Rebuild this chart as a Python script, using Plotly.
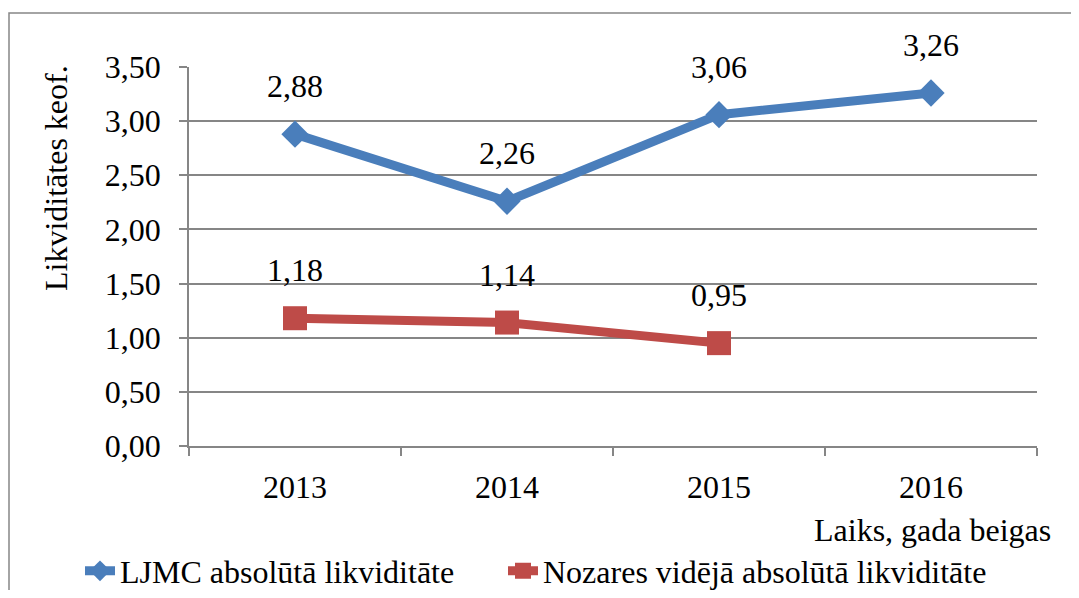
import plotly.graph_objects as go

years = ["2013", "2014", "2015", "2016"]
ljmc = [2.88, 2.26, 3.06, 3.26]
nozare = [1.18, 1.14, 0.95, None]
ljmc_labels = ["2,88", "2,26", "3,06", "3,26"]
nozare_labels = ["1,18", "1,14", "0,95", None]
y_ticks = [0, 0.5, 1.0, 1.5, 2.0, 2.5, 3.0, 3.5]
y_tick_text = ["0,00", "0,50", "1,00", "1,50", "2,00", "2,50", "3,00", "3,50"]

BLUE = "#4A7EBB"
RED = "#BE4B48"
FONT = "Liberation Serif, Times New Roman, serif"
FS = 32

# page offset (body margin) compensation
OFF = 8
W, H = 1079 - 2 * OFF, 598 - 2 * OFF
L, R = 189 - OFF, 1037 - OFF
T, B = 67 - OFF, 446 - OFF
PW, PH = R - L, B - T


def px(xr):
    return (xr - OFF - L) / PW


def py(yr):
    return (B - (yr - OFF)) / PH


fig = go.Figure()
fig.add_trace(go.Scatter(
    x=years, y=ljmc, mode="lines+markers", name="LJMC absolūtā likviditāte",
    line=dict(color=BLUE, width=9), marker=dict(symbol="diamond", size=21, color=BLUE),
    legend="legend",
))
fig.add_trace(go.Scatter(
    x=years[:3], y=nozare[:3], mode="lines+markers", name="Nozares vidējā absolūtā likviditāte",
    line=dict(color=RED, width=9), marker=dict(symbol="square", size=24, color=RED),
    legend="legend2",
))

for i, (y, t) in enumerate(zip(ljmc, ljmc_labels)):
    fig.add_annotation(x=i, y=y, text=t, showarrow=False, yshift=48,
                       font=dict(family=FONT, size=FS, color="black"))
for i, (y, t) in enumerate(zip(nozare, nozare_labels)):
    if y is not None:
        fig.add_annotation(x=i, y=y, text=t, showarrow=False, yshift=48,
                           font=dict(family=FONT, size=FS, color="black"))

# axis titles
fig.add_annotation(xref="paper", yref="paper", x=px(56), y=py(178),
                   xanchor="center", yanchor="middle",
                   text="Likviditātes keof.", textangle=-90, showarrow=False,
                   font=dict(family=FONT, size=FS, color="black"))
fig.add_annotation(xref="paper", yref="paper", x=px(1053), y=py(530),
                   xanchor="right", yanchor="middle", text="Laiks, gada beigas", showarrow=False,
                   font=dict(family=FONT, size=FS, color="black"))

# outer chart border
fig.add_shape(type="rect", xref="paper", yref="paper",
              x0=px(9), x1=px(1130), y0=py(640), y1=py(13),
              line=dict(color="#868686", width=1.5), fillcolor="rgba(0,0,0,0)", layer="below")

leg_common = dict(orientation="h", xanchor="left", yanchor="middle",
                  font=dict(family=FONT, size=FS, color="black"),
                  bgcolor="rgba(0,0,0,0)")

fig.update_layout(
    width=W, height=H,
    margin=dict(l=L, r=W - R, t=T, b=H - B, autoexpand=False),
    paper_bgcolor="white", plot_bgcolor="white",
    font=dict(family=FONT, size=FS, color="black"),
    showlegend=True,
    legend=dict(x=px(80), y=py(571), **leg_common),
    legend2=dict(x=px(503), y=py(571), **leg_common),
    xaxis=dict(type="category", range=[-0.5, 3.5], showgrid=False, automargin=False,
               showline=True, linecolor="#868686", linewidth=1.5,
               ticks="outside", tickson="boundaries", ticklen=8, tickcolor="#868686", tickwidth=1.5,
               ticklabelstandoff=12),
    yaxis=dict(range=[0, 3.5], tickvals=y_ticks, ticktext=y_tick_text, automargin=False,
               showgrid=True, gridcolor="#868686", gridwidth=1.5,
               showline=True, linecolor="#868686", linewidth=1.5,
               ticks="outside", ticklen=8, tickcolor="#868686", tickwidth=1.5,
               ticklabelstandoff=12, zeroline=False),
)

fig.write_html("out.html")
